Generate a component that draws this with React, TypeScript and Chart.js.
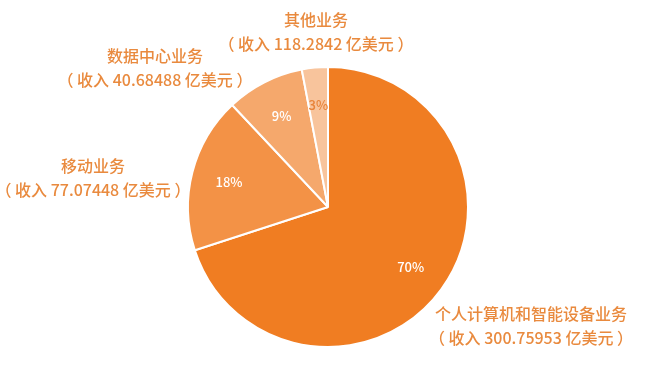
import React, { useEffect, useRef } from "react";
import { Chart, registerables } from "chart.js";

Chart.register(...registerables);

const categories = ["个人计算机和智能设备业务", "移动业务", "数据中心业务", "其他业务"];
const shares = [70, 18, 9, 3];
const revenues = ["300.75953", "77.07448", "40.68488", "118.2842"];
const sliceColors = ["#F07D22", "#F39246", "#F5A86C", "#F8C49C"];
const pctColors = ["#FFFFFF", "#FFFFFF", "#FFFFFF", "#E8843A"];

// label anchors in units of the pie radius, relative to its centre
const labelLayout = [
  { dx: 1.45, dy: 0.85 },
  { dx: -1.679, dy: -0.211 },
  { dx: -1.236, dy: -0.991 },
  { dx: -0.086, dy: -1.254 },
];

const FONT = '"Noto Sans CJK SC", "Noto Sans", sans-serif';

const labelPlugin = {
  id: "sliceLabels",
  afterDatasetsDraw(chart: any) {
    const ctx = chart.ctx;
    const meta = chart.getDatasetMeta(0);
    ctx.save();
    meta.data.forEach((arc: any, i: number) => {
      const { x, y, startAngle, endAngle, outerRadius } = arc.getProps(
        ["x", "y", "startAngle", "endAngle", "outerRadius"],
        true
      );
      const mid = (startAngle + endAngle) / 2;
      const pr = outerRadius * 0.73;
      ctx.font = `500 13px ${FONT}`;
      ctx.fillStyle = pctColors[i];
      ctx.textAlign = "center";
      ctx.textBaseline = "middle";
      ctx.fillText(shares[i] + "%", x + Math.cos(mid) * pr, y + Math.sin(mid) * pr);

      const lay = labelLayout[i];
      const lx = x + lay.dx * outerRadius;
      const ly = y + lay.dy * outerRadius;
      ctx.font = `500 16px ${FONT}`;
      ctx.fillStyle = "#E98A3E";
      ctx.fillText(categories[i], lx, ly - 12);
      ctx.fillText("（ 收入 " + revenues[i] + " 亿美元 ）", lx, ly + 12);
    });
    ctx.restore();
  },
};

export default function App() {
  const ref = useRef<HTMLCanvasElement>(null);
  useEffect(() => {
    document.body.style.margin = "0";
    const chart = new Chart(ref.current!, {
      type: "pie",
      data: {
        labels: categories,
        datasets: [
          {
            data: shares,
            backgroundColor: sliceColors,
            borderColor: "#FFFFFF",
            borderWidth: 2,
          },
        ],
      },
      options: {
        animation: false,
        responsive: false,
        layout: { padding: { top: 66, bottom: 18, left: 11, right: 0 } },
        plugins: { legend: { display: false }, tooltip: { enabled: false } },
      },
      plugins: [labelPlugin],
    });
    return () => chart.destroy();
  }, []);
  return (
    <div style={{ position: "fixed", left: 0, top: 0, width: 645, height: 366, background: "#fff" }}>
      <canvas ref={ref} width={645} height={366} />
    </div>
  );
}
